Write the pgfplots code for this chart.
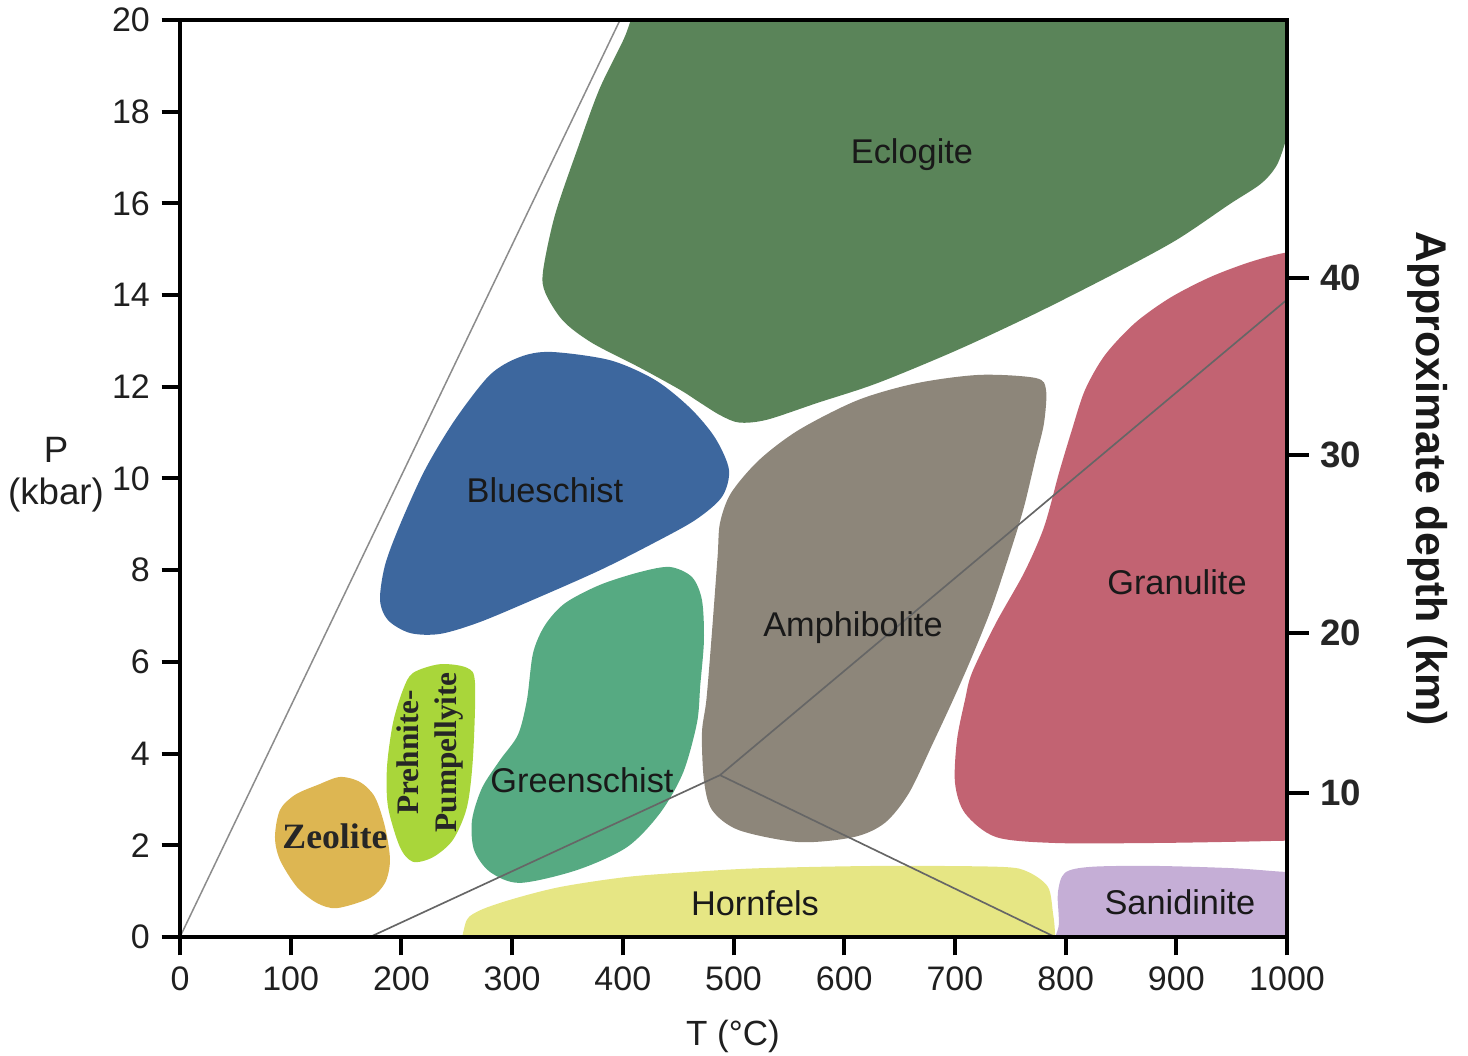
\documentclass[border=0pt]{standalone}
\usepackage{pgfplots}
\pgfplotsset{compat=1.18}
\usepackage{fontspec}
\setmainfont{Liberation Sans}
\newfontfamily\serifbf{Liberation Serif}

\definecolor{eclogite}{HTML}{5A8459}
\definecolor{blueschist}{HTML}{3D679E}
\definecolor{greenschist}{HTML}{56AA82}
\definecolor{amphibolite}{HTML}{8D867A}
\definecolor{granulite}{HTML}{C26372}
\definecolor{hornfels}{HTML}{E6E684}
\definecolor{sanidinite}{HTML}{C5AED6}
\definecolor{zeolite}{HTML}{DDB652}
\definecolor{prehnite}{HTML}{A9D63A}
\definecolor{geotherm}{HTML}{666666}

\begin{document}
\begin{tikzpicture}
\begin{axis}[name=ax,
  scale only axis, width=332.1pt, height=275.1pt,
  xmin=0, xmax=1000, ymin=0, ymax=20,
  xtick={0,100,...,1000}, ytick={0,2,...,20},
  xtick pos=lower, ytick pos=left, tick align=outside,
  major tick length=5.5pt,
  axis on top,
  axis line style={line width=1.2pt},
  every tick/.style={black, line width=1.2pt},
  ticklabel style={font=\fontsize{10.2}{12}\selectfont, text=black!88},
  /pgf/number format/assume math mode=true,
  /pgf/number format/1000 sep={},
  xlabel={T (°C)},
  xlabel style={at={(axis description cs:0.4995,-0.109)}, anchor=center,
    font=\fontsize{10.5}{12}\selectfont, text=black!88},
  ylabel={P\\(kbar)},
  ylabel style={at={(axis description cs:-0.112,0.504)}, anchor=center,
    rotate=-90, align=center, font=\fontsize{11}{12.6}\selectfont, text=black!88},
]
% facies fields (T in deg C, P in kbar)
\addplot[fill=eclogite, draw=none, smooth cycle] coordinates {
  (401,19.59) (410,20.15) (425,20.6) (600,20.6) (800,20.6) (1008,20.6)
  (1008,18.2) (998,17.3) (990,16.8) (976,16.42) (948,15.98) (900,15.2)
  (845,14.48) (773,13.6) (702,12.8) (630,12.08) (576,11.65) (530,11.28)
  (505,11.22) (488,11.38) (470,11.65) (452,11.93) (416,12.41) (372,12.96)
  (346,13.44) (330,14.05) (328,14.53) (339,15.77) (361,17.32) (379,18.5)
};
\addplot[fill=blueschist, draw=none, smooth cycle] coordinates {
  (335.1,12.76) (388.4,12.58) (429.1,12.15) (460.7,11.54) (483.3,10.89)
  (495.9,10.19) (489.6,9.60) (465.2,9.09) (424.6,8.55) (379.4,8.00)
  (325.2,7.42) (271.0,6.87) (234.9,6.61) (207.8,6.63) (187.9,6.91)
  (180.7,7.35) (185.2,8.11) (198.7,8.99) (221.3,10.19) (248.4,11.28)
  (280.0,12.26) (307.1,12.65)
};
\addplot[fill=greenschist, draw=none, smooth cycle] coordinates {
  (442.6,8.07) (462.5,7.85) (471.5,7.35) (473.3,6.48) (470.0,5.50)
  (467.0,4.67) (454.4,3.58) (433.6,2.70) (403.8,1.96) (358.6,1.46)
  (307.1,1.18) (280.0,1.42) (265.6,1.90) (263.8,2.55) (272.8,3.25)
  (289.1,3.86) (305.3,4.41) (313.4,5.17) (318.9,6.19) (329.7,6.80)
  (347.8,7.28) (379.4,7.68) (415.5,7.96)
};
\addplot[fill=amphibolite, draw=none, smooth cycle] coordinates {
  (773.2,12.19) (782.3,11.93) (780.5,11.21) (773.2,10.47) (762.4,9.38)
  (751.5,8.51) (733.5,7.20) (715.4,6.11) (698.3,5.17) (680.2,4.23)
  (658.5,3.14) (636.8,2.49) (608.8,2.18) (559.1,2.07) (504.9,2.33)
  (480.6,2.77) (473.3,3.42) (471.5,4.45) (475.5,5.17) (480.0,6.48)
  (485.6,8.29) (487.8,9.03) (497.7,9.68) (523.0,10.40) (559.1,11.06)
  (612.4,11.71) (665.7,12.08) (722.6,12.26)
};
\addplot[fill=granulite, draw=none, smooth cycle] coordinates {
  (1000,14.93) (1030,14.95) (1045,13) (1045,4) (1045,2.1) (1000,2.1)
  (960,2.08) (880,2.05) (790.4,2.05) (737.1,2.18) (709.1,2.70)
  (700.1,3.36) (701.9,4.30) (709.1,5.17) (715.4,5.76) (737.1,6.85)
  (762.4,7.94) (780.5,8.94) (794.0,10.12) (805.7,11.06) (817.5,11.93)
  (835.5,12.69) (862.6,13.39) (894.3,13.94) (930.4,14.39) (966.5,14.72)
};
\addplot[fill=hornfels, draw=none, smooth cycle] coordinates {
  (257.4,0.26) (268.3,0.55) (298.1,0.81) (343.3,1.09) (403.8,1.31)
  (463.4,1.42) (523.9,1.50) (632.3,1.55) (740.7,1.53) (766.0,1.42)
  (784.1,1.09) (788.6,0.52) (790.4,0.09) (791,-0.8) (780,-1.8)
  (300,-1.8) (255,-0.8)
};
\addplot[fill=sanidinite, draw=none, smooth cycle] coordinates {
  (795,-1.5) (794,0.3) (793,0.96) (799.4,1.40) (822.9,1.53) (879.8,1.55)
  (951.2,1.50) (998,1.42) (1060,1.35) (1060,-1.5)
};
\addplot[fill=zeolite, draw=none, smooth cycle] coordinates {
  (144.5,3.49) (162.6,3.38) (176.1,3.05) (185.2,2.40) (189.7,1.68)
  (185.2,1.18) (171.6,0.85) (141.8,0.63) (123.8,0.74) (105.7,1.09)
  (90.3,1.68) (85.8,2.18) (90.3,2.77) (103.9,3.10) (124.7,3.32)
};
\addplot[fill=prehnite, draw=none, smooth cycle] coordinates {
  (234.9,5.95) (259.3,5.87) (266.5,5.54) (264.7,3.93) (259.3,2.84)
  (246.6,2.12) (228.5,1.74) (210.5,1.64) (198.7,1.96) (187.9,2.84)
  (187.0,3.71) (192.4,4.67) (201.4,5.39) (210.5,5.76)
};
% geotherm / boundary lines
\addplot[draw=black!45, line width=0.45pt] coordinates {(0,0) (397.5,20)};
\addplot[draw=geotherm, line width=0.5pt] coordinates {(171.6,0) (487.8,3.53) (1000,13.9)};
\addplot[draw=geotherm, line width=0.5pt] coordinates {(487.8,3.53) (790.4,0)};
% field names
\begin{scope}[every node/.style={font=\fontsize{10.3}{12}\selectfont, text=black!90}]
\node at (axis cs:661.2,17.06) {Eclogite};
\node at (axis cs:329.7,9.75) {Blueschist};
\node at (axis cs:363.1,3.42) {Greenschist};
\node at (axis cs:607.9,6.74) {Amphibolite};
\node at (axis cs:900.6,7.74) {Granulite};
\node at (axis cs:519.4,0.74) {Hornfels};
\node at (axis cs:903.3,0.76) {Sanidinite};
\end{scope}
\node[font=\serifbf\bfseries\fontsize{10.7}{12}\selectfont, text=black!85]
  at (axis cs:140.0,2.2) {Zeolite};
\node[rotate=90, align=center, font=\serifbf\bfseries\fontsize{9.4}{11.4}\selectfont, text=black!85]
  at (axis cs:225.8,4.03) {Prehnite-\\Pumpellyite};
\end{axis}

\begin{axis}[
  scale only axis, width=332.1pt, height=275.1pt,
  xmin=0, xmax=1000, ymin=0, ymax=20,
  axis x line=none, axis y line*=right,
  ytick={3.14,6.63,10.51,14.37}, yticklabels={10,20,30,40},
  tick align=outside, major tick length=6.5pt,
  axis line style={line width=1.2pt},
  every tick/.style={black, line width=1.2pt},
  yticklabel style={font=\bfseries\fontsize{11}{13}\selectfont, text=black!85},
  ylabel={Approximate depth (km)},
  ylabel style={at={(axis description cs:1.127,0.5)}, anchor=center, rotate=180,
    font=\bfseries\fontsize{12.9}{15}\selectfont, text=black!90},
]
\end{axis}

\pgfresetboundingbox
\path ([shift={(-54pt,-35.7pt)}]ax.south west) rectangle ([shift={(54.3pt,6pt)}]ax.north east);
\end{tikzpicture}
\end{document}
